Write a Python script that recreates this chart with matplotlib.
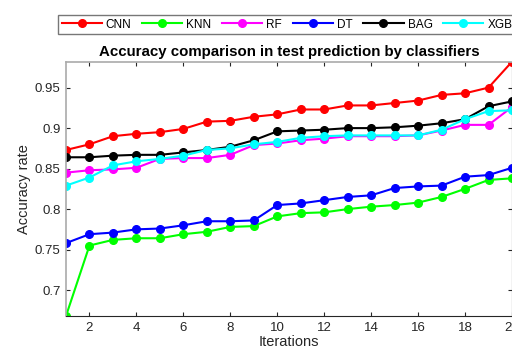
import numpy as np
import matplotlib
matplotlib.use('Agg')
import matplotlib.pyplot as plt
from matplotlib.ticker import FormatStrFormatter

plt.rcParams['font.family'] = ['Liberation Sans', 'DejaVu Sans']

iterations = list(range(1, 21))
cnn = [0.873, 0.880, 0.890, 0.893, 0.895, 0.899, 0.908, 0.909, 0.914, 0.917,
       0.923, 0.923, 0.928, 0.928, 0.931, 0.934, 0.941, 0.943, 0.950, 0.982]
knn = [0.668, 0.755, 0.762, 0.764, 0.764, 0.769, 0.772, 0.778, 0.779, 0.791,
       0.795, 0.796, 0.800, 0.803, 0.805, 0.808, 0.815, 0.825, 0.836, 0.838]
rf = [0.845, 0.848, 0.849, 0.851, 0.862, 0.863, 0.863, 0.867, 0.879, 0.881,
      0.885, 0.887, 0.890, 0.890, 0.890, 0.891, 0.897, 0.904, 0.904, 0.926]
dt = [0.758, 0.769, 0.771, 0.775, 0.776, 0.780, 0.785, 0.785, 0.786, 0.805,
      0.807, 0.811, 0.815, 0.817, 0.826, 0.828, 0.829, 0.840, 0.842, 0.851]
bag = [0.864, 0.864, 0.866, 0.867, 0.867, 0.870, 0.873, 0.877, 0.885, 0.896,
       0.897, 0.898, 0.900, 0.900, 0.901, 0.903, 0.906, 0.911, 0.927, 0.933]
xgb = [0.829, 0.839, 0.854, 0.859, 0.862, 0.866, 0.873, 0.875, 0.880, 0.883,
       0.888, 0.890, 0.891, 0.891, 0.891, 0.891, 0.898, 0.911, 0.921, 0.922]

series = [('CNN', cnn, '#ff0000'), ('KNN', knn, '#00ff00'), ('RF', rf, '#ff00ff'),
          ('DT', dt, '#0000ff'), ('BAG', bag, '#000000'), ('XGB', xgb, '#00ffff')]

fig = plt.figure(figsize=(5.12, 3.51), dpi=100)
ax = fig.add_axes([66 / 512, 35 / 351, 446 / 512, 254.3 / 351])

for name, vals, col in series:
    ax.plot(iterations, vals, '-o', color=col, lw=1.5, ms=5.5, label=name)

ax.set_xlim(1, 20)
ax.set_ylim(0.668, 0.982)
ax.set_xticks(np.arange(2, 21, 2))
ax.set_yticks([0.7, 0.75, 0.8, 0.85, 0.9, 0.95])
ax.yaxis.set_major_formatter(FormatStrFormatter('%g'))
ax.tick_params(direction='in', length=3, width=0.8, top=True, right=True,
               labelsize=9.5, colors='#262626', pad=4)

for s in ['left', 'top']:
    ax.spines[s].set_color('#aaaaaa')
    ax.spines[s].set_linewidth(1.2)
ax.spines['bottom'].set_color('#262626')
ax.spines['right'].set_color('#262626')

ax.set_xlabel('Iterations', fontsize=10.5, color='#262626', labelpad=1)
ax.set_ylabel('Accuracy rate', fontsize=10.5, color='#262626', labelpad=3)
ax.set_title('Accuracy comparison in test prediction by classifiers',
             fontsize=10.8, fontweight='bold', pad=4)

fig.legend(loc='upper left', bbox_to_anchor=(58 / 512, 1 - 15 / 351), ncol=6,
           fontsize=8.5, handlelength=3.4, columnspacing=0.9, handletextpad=0.35,
           borderpad=0.3, frameon=True, fancybox=False, edgecolor='#555555',
           borderaxespad=0)

fig.savefig('out.png', dpi=100)
